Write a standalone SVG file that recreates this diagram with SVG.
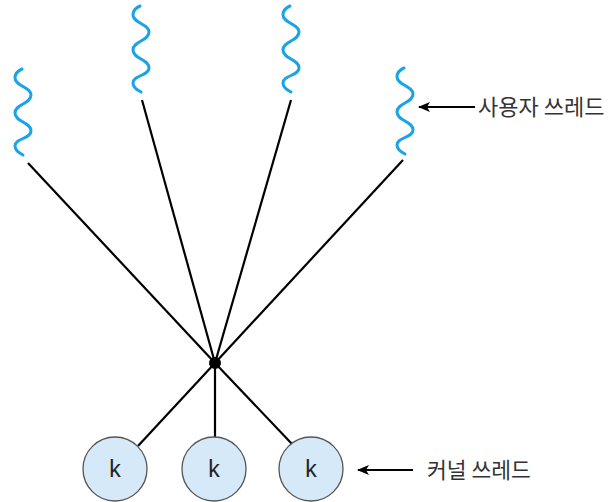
<svg xmlns="http://www.w3.org/2000/svg" width="614" height="502" viewBox="0 0 614 502">
<style>
.wave{fill:none;stroke:#1aa3e6;stroke-width:3;stroke-linecap:round}
.conn{stroke:#000;stroke-width:2.2;fill:none}
.arrow{stroke:#000;stroke-width:2;fill:none}
.kt{fill:#d6e9f8;stroke:#555;stroke-width:1.3}
.kl{font-family:"Liberation Sans",Arial,sans-serif;font-size:23px;fill:#222;text-anchor:middle}
.lbl{font-family:"Noto Sans CJK KR","Noto Sans",sans-serif;fill:#333}
</style>
<defs>
<path id="w" d="M0,0 Q-7,3 -7,9 C-7,17 9,18 9,26 C9,35 -7,35 -7,44 C-7,53 9,53 9,62 C9,70 -7,69 -7,77 Q-7,82 1,86"/>
<marker id="ah" markerWidth="12" markerHeight="10" refX="11" refY="5" orient="auto" markerUnits="userSpaceOnUse">
<path d="M0,0 L12,5 L0,10 L3,5 Z" fill="#000"/>
</marker>
</defs>
<g id="connectors">
<line class="conn" x1="28" y1="163" x2="215" y2="363"/>
<line class="conn" x1="142" y1="100" x2="215" y2="363"/>
<line class="conn" x1="291" y1="100" x2="215" y2="363"/>
<line class="conn" x1="403" y1="160" x2="215" y2="363"/>
<line class="conn" x1="215" y1="363" x2="138" y2="446"/>
<line class="conn" x1="215" y1="363" x2="215" y2="437"/>
<line class="conn" x1="215" y1="363" x2="292" y2="444"/>
<line class="arrow" x1="475" y1="107" x2="419" y2="107" marker-end="url(#ah)"/>
<line class="arrow" x1="413" y1="470" x2="358" y2="470" marker-end="url(#ah)"/>
</g>
<g id="user1"><use href="#w" class="wave" transform="translate(22,69)"/></g>
<g id="user2"><use href="#w" class="wave" transform="translate(140,6)"/></g>
<g id="user3"><use href="#w" class="wave" transform="translate(290,6)"/></g>
<g id="user4"><use href="#w" class="wave" transform="translate(404,68)"/></g>
<g id="mux"><circle cx="215" cy="363" r="6" fill="#000"/></g>
<g id="k1"><circle class="kt" cx="115" cy="469" r="32"/><text class="kl" x="115" y="477">k</text></g>
<g id="k2"><circle class="kt" cx="214" cy="469" r="32"/><text class="kl" x="214" y="477">k</text></g>
<g id="k3"><circle class="kt" cx="311" cy="469" r="32"/><text class="kl" x="311" y="477">k</text></g>
<g id="label-user"><text class="lbl" x="478" y="115" font-size="22">사용자 쓰레드</text></g>
<g id="label-kernel"><text class="lbl" x="427" y="478" font-size="21.5">커널 쓰레드</text></g>
</svg>
